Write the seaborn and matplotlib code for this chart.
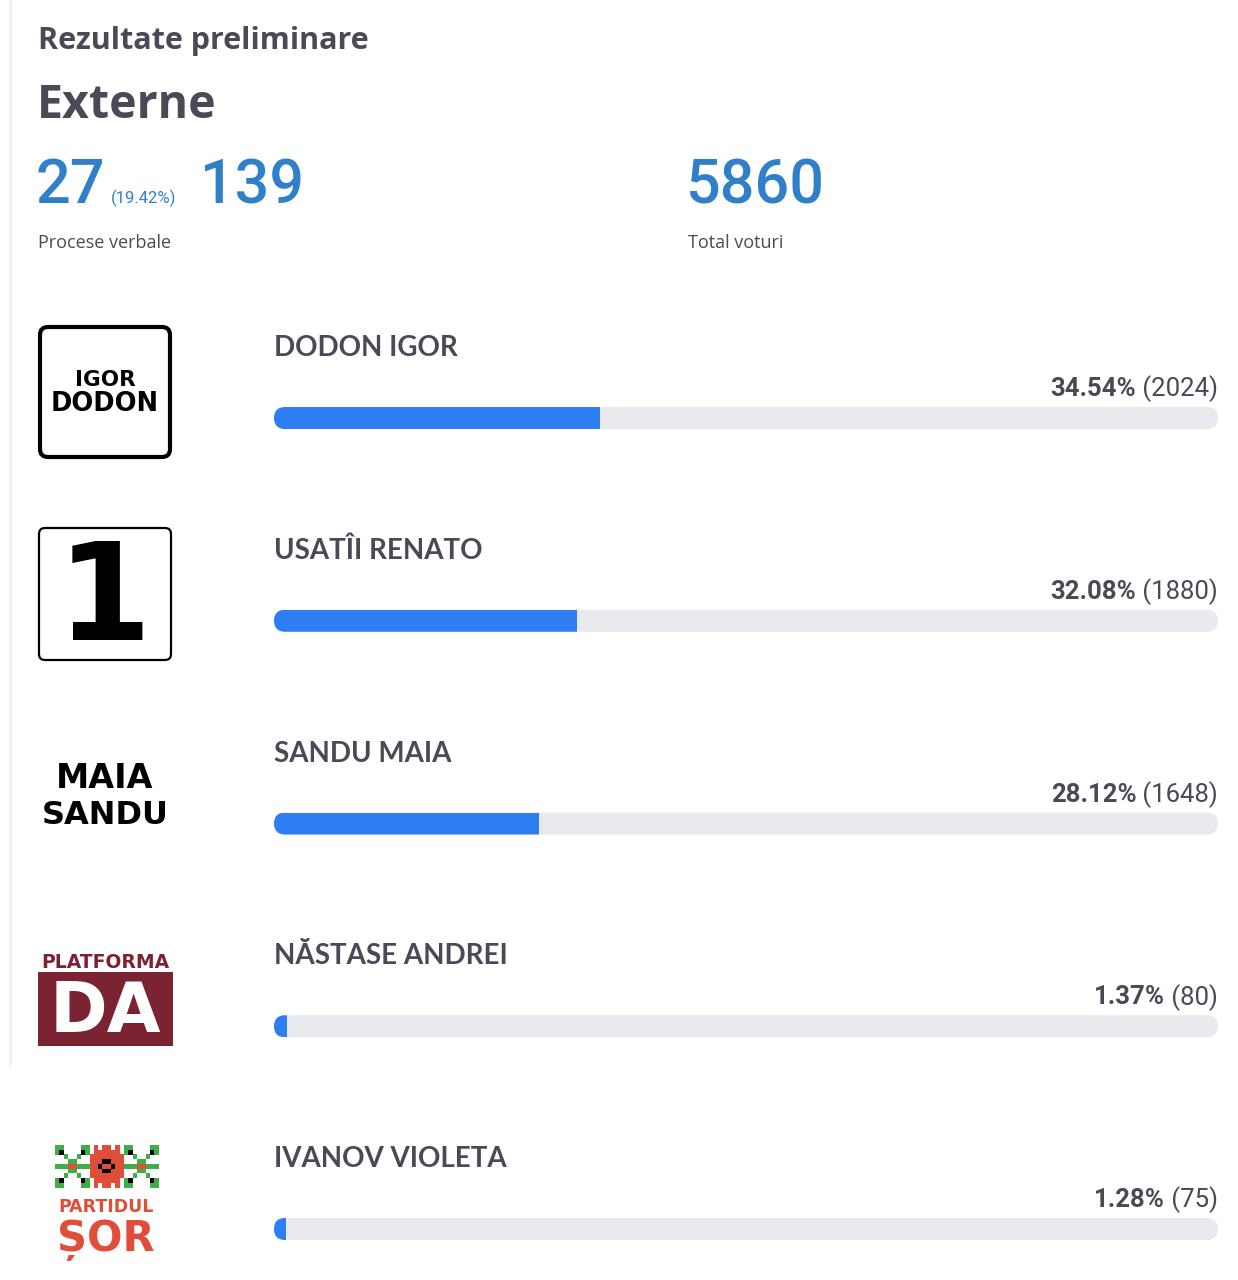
import matplotlib
matplotlib.use("Agg")
import matplotlib.pyplot as plt
import seaborn as sns
from matplotlib.patches import FancyBboxPatch, Rectangle

# ---------------- data ----------------
candidates = ["DODON IGOR", "USATÎI RENATO", "SANDU MAIA", "NĂSTASE ANDREI", "IVANOV VIOLETA"]
percents = [34.54, 32.08, 28.12, 1.37, 1.28]
votes = [2024, 1880, 1648, 80, 75]
scale_max = [100, 100, 100, 100, 100]
pv_processed = 27
pv_processed_pct = 19.42
pv_total = 139
total_votes = 5860
title_small = "Rezultate preliminare"
title_big = "Externe"
label_pv = "Procese verbale"
label_votes = "Total voturi"

# ---------------- style ----------------
sns.set_theme(style="white")
plt.rcParams["font.family"] = ["Lato", "DejaVu Sans"]

BLUE_BAR = "#2f7df3"
TRACK = "#e9eaee"
DARK = "#4a4a57"
BLUE_TXT = "#2f80c8"
ROB = ["Roboto", "DejaVu Sans"]
OPS = ["Open Sans", "DejaVu Sans"]
LAT = ["Lato", "DejaVu Sans"]
DJ = ["DejaVu Sans"]

W, H = 1238, 1280
fig = plt.figure(figsize=(W / 100, H / 100), dpi=100)
fig.patch.set_facecolor("white")

# overlay axes in pixel coordinates (header + logos)
ov = fig.add_axes([0, 0, 1, 1])
ov.set_xlim(0, W)
ov.set_ylim(H, 0)
ov.axis("off")

# bar axes
x0, x1 = 274, 1218
row0, row_step = 418, 202.75
ax = fig.add_axes([x0 / W, 0, (x1 - x0) / W, 1])
bar_h = 22 / row_step

sns.barplot(x=scale_max, y=candidates, orient="h", color=TRACK, saturation=1,
            width=bar_h, ax=ax)
n_track = len(ax.patches)
sns.barplot(x=percents, y=candidates, orient="h", color=BLUE_BAR, saturation=1,
            width=bar_h, ax=ax)
ax.set_xlim(0, 100)
ax.set_ylim((H - row0) / row_step, -row0 / row_step)
ax.axis("off")

px_per_x = (x1 - x0) / 100.0
r_x = 11 / px_per_x
aspect = (11 / row_step) / r_x
patches = list(ax.patches)
tracks = patches[:n_track]
fills = patches[n_track:]
rounded = []
for p in tracks:
    x, y = p.get_x(), p.get_y()
    w, h = p.get_width(), p.get_height()
    fb = FancyBboxPatch((x, y), w, h,
                        boxstyle=f"round,pad=0,rounding_size={r_x}",
                        mutation_aspect=aspect, facecolor=TRACK,
                        edgecolor="none", zorder=1)
    p.remove()
    ax.add_patch(fb)
    rounded.append(fb)
for p, fb in zip(fills, rounded):
    p.set_zorder(2)
    p.set_edgecolor("none")
    p.set_clip_path(fb)

# candidate names and value labels
fig.canvas.draw()
renderer = fig.canvas.get_renderer()
for i, (name, pct, v) in enumerate(zip(candidates, percents, votes)):
    ax.text(0, i - 70 / row_step, name, ha="left", va="center",
            fontsize=20, color=DARK, fontweight="bold", family=LAT)
    t2 = ax.text(100, i - 29 / row_step, f" ({v})", ha="right", va="center",
                 fontsize=18.5, color=DARK, family=ROB)
    bb = t2.get_window_extent(renderer)
    ov.text(bb.x0, H - 0.5 * (bb.y0 + bb.y1), f"{pct:.2f}%", ha="right",
            va="center", fontsize=18.5, color=DARK, fontweight="bold", family=ROB)

# ---------------- header ----------------
ov.text(38, 41, title_small, ha="left", va="center", fontsize=22,
        color=DARK, fontweight="bold", family=OPS)
ov.text(37, 106, title_big, ha="left", va="center", fontsize=33.5,
        color=DARK, fontweight="bold", family=OPS)
ov.text(36, 186, f"{pv_processed}", ha="left", va="center", fontsize=44,
        color=BLUE_TXT, fontweight="medium", family=ROB)
ov.text(111, 198, f"({pv_processed_pct:.2f}%)", ha="left", va="center",
        fontsize=12, color=BLUE_TXT, family=ROB)
ov.text(200, 186, f"{pv_total}", ha="left", va="center", fontsize=44,
        color=BLUE_TXT, fontweight="medium", family=ROB)
ov.text(686, 186, f"{total_votes}", ha="left", va="center", fontsize=44,
        color=BLUE_TXT, fontweight="medium", family=ROB)
ov.text(38, 243, label_pv, ha="left", va="center", fontsize=13,
        color=DARK, family=OPS)
ov.text(688, 243, label_votes, ha="left", va="center", fontsize=13,
        color=DARK, family=OPS)

# faint left border
ov.plot([10, 10], [0, 1065], color="#f0f0f2", lw=2)

# ---------------- logos ----------------
# 1: IGOR DODON
ov.add_patch(FancyBboxPatch((40, 327), 130, 130, boxstyle="round,pad=0,rounding_size=8",
                            facecolor="white", edgecolor="black", lw=3))
ov.text(105, 380, "IGOR", ha="center", va="center", fontsize=15.5, color="black",
        fontweight="bold", family=DJ)
ov.text(105, 404, "DODON", ha="center", va="center", fontsize=18.5, color="black",
        fontweight="bold", family=DJ)
# 2: 1
ov.add_patch(FancyBboxPatch((39, 528), 132, 132, boxstyle="round,pad=0,rounding_size=6",
                            facecolor="white", edgecolor="black", lw=1.6))
ov.text(104, 603, "1", ha="center", va="center", fontsize=98, color="black",
        fontweight="bold", family=DJ)
# 3: MAIA SANDU
ov.text(105, 778, "MAIA", ha="center", va="center", fontsize=24, color="black",
        fontweight="bold", family=DJ)
ov.text(105, 815, "SANDU", ha="center", va="center", fontsize=23, color="black",
        fontweight="bold", family=DJ)
# 4: PLATFORMA DA
DA_RED = "#7b2233"
ov.text(105, 962, "PLATFORMA", ha="center", va="center", fontsize=13.5, color=DA_RED,
        fontweight="bold", family=DJ)
ov.add_patch(Rectangle((38, 972), 135, 74, facecolor=DA_RED, edgecolor="none"))
ov.text(105, 1012, "DA", ha="center", va="center", fontsize=50, color="white",
        fontweight="bold", family=DJ)
# 5: PARTIDUL SOR
SOR_RED = "#e04e3a"
GREEN = "#3fae49"
cols = {"G": GREEN, "R": SOR_RED, "B": "black"}
cross_grid = ["GG....GG",
              "GB....BG",
              "..G..G..",
              "...GG...",
              "GGGRRGGG",
              "...GG...",
              "..G..G..",
              "GB....BG",
              "GG....GG"]
rose_grid = [".R.RR.R.",
             ".RRRRRR.",
             "RRRRRRRR",
             "RRRBBRRR",
             "RRBRRBRR",
             "RRRBBRRR",
             "RRRRRRRR",
             ".RRRRRR.",
             ".R.RR.R."]
cw, ch = 4.3, 4.7
def draw_grid(grid, gx, gy):
    for r, row in enumerate(grid):
        for c, k in enumerate(row):
            if k in cols:
                ov.add_patch(Rectangle((gx + c * cw, gy + r * ch), cw + 0.2, ch + 0.2,
                                       facecolor=cols[k], edgecolor="none"))
draw_grid(cross_grid, 55, 1145)
draw_grid(rose_grid, 89.5, 1145)
draw_grid(cross_grid, 124, 1145)
ov.text(106, 1207, "PARTIDUL", ha="center", va="center", fontsize=12.5, color=SOR_RED,
        fontweight="bold", family=DJ)
ov.text(106, 1240, "ȘOR", ha="center", va="center", fontsize=30, color=SOR_RED,
        fontweight="bold", family=DJ)

fig.savefig("out.png", dpi=100, facecolor="white")
